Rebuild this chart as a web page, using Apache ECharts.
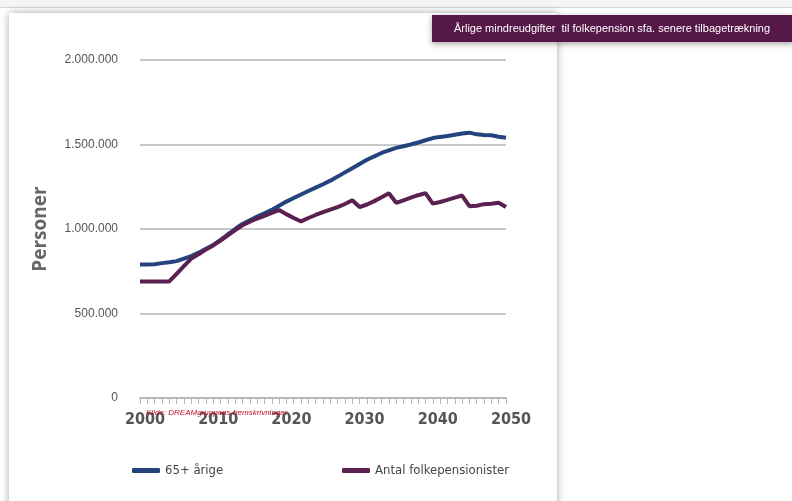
<!DOCTYPE html>
<html>
<head>
<meta charset="utf-8">
<script src="https://cdn.jsdelivr.net/npm/echarts@6/dist/echarts.min.js"></script>
<style>
html,body{margin:0;padding:0;background:#fff;}
#chart{width:792px;height:501px;}
</style>
</head>
<body>
<div id="chart"></div>
<script>
var years = [];
for (var y = 2000; y <= 2050; y++) years.push(String(y));

var seriesNames = ['65+ årige', 'Antal folkepensionister'];

var aged65 = [790000,790000,792000,798000,803000,810000,825000,840000,860000,883000,
  905000,935000,968000,1000000,1030000,1052000,1073000,1093000,1113000,1138000,
  1162000,1183000,1204000,1225000,1245000,1265000,1286000,1310000,1335000,1360000,
  1385000,1410000,1430000,1450000,1465000,1480000,1490000,1500000,1512000,1525000,
  1538000,1545000,1550000,1558000,1565000,1570000,1560000,1556000,1555000,1546000,1540000];

var pensioners = [690000,690000,690000,690000,690000,735000,780000,825000,850000,878000,
  903000,932000,962000,993000,1022000,1043000,1062000,1078000,1095000,1112000,
  1088000,1065000,1045000,1065000,1083000,1100000,1115000,1130000,1148000,1170000,
  1130000,1145000,1165000,1188000,1212000,1155000,1170000,1185000,1200000,1212000,
  1150000,1160000,1172000,1186000,1198000,1135000,1138000,1147000,1150000,1155000,1130000];

var yTicks = [0, 500000, 1000000, 1500000, 2000000];
var yAxisTitle = 'Personer';
var bannerText = 'Årlige mindreudgifter  til folkepension sfa. senere tilbagetrækning';
var sourceText = 'Kilde: DREAMgruppens fremskrivninger';

function fmt(v) {
  return String(v).replace(/\B(?=(\d{3})+(?!\d))/g, '.');
}

var condensed = '"DejaVu Sans Condensed", "Liberation Sans Narrow", sans-serif';

var chart = echarts.init(document.getElementById('chart'), null, {renderer: 'canvas'});
chart.setOption({
  backgroundColor: '#ffffff',
  animation: false,
  graphic: [
    {type: 'rect', z: -20, shape: {x: 0, y: 0, width: 792, height: 7}, style: {fill: '#f5f5f5'}},
    {type: 'line', z: -19, shape: {x1: 0, y1: 7.5, x2: 792, y2: 7.5}, style: {stroke: '#d6d6d6', lineWidth: 1}},
    {type: 'rect', z: -18, shape: {x: 9, y: 13, width: 548, height: 500},
      style: {fill: '#ffffff', shadowBlur: 8, shadowColor: 'rgba(0,0,0,0.35)', shadowOffsetX: 0, shadowOffsetY: 0}},
    {type: 'rect', z: 50, shape: {x: 432, y: 15, width: 362, height: 27},
      style: {fill: '#561848', shadowBlur: 6, shadowColor: 'rgba(0,0,0,0.35)', shadowOffsetY: 2}},
    {type: 'text', z: 51, x: 612, y: 29,
      style: {text: bannerText, fill: '#ffffff', font: '11px "Liberation Sans", Arial, sans-serif',
        textAlign: 'center', textVerticalAlign: 'middle'}},
    {type: 'text', z: 60, x: 146, y: 413,
      style: {text: sourceText, fill: '#c0102a', font: 'italic 8px "Liberation Sans", Arial, sans-serif',
        textAlign: 'left', textVerticalAlign: 'middle'}}
  ],
  grid: {left: 140, right: 286, top: 60, bottom: 103, containLabel: false},
  legend: [
    {data: [seriesNames[0]], left: 127, top: 459, icon: 'roundRect', itemWidth: 28, itemHeight: 5, itemGap: 5,
      textStyle: {fontFamily: condensed, fontSize: 13, color: '#444'}},
    {data: [seriesNames[1]], left: 337, top: 459, icon: 'roundRect', itemWidth: 28, itemHeight: 5, itemGap: 5,
      textStyle: {fontFamily: condensed, fontSize: 13, color: '#444'}}
  ],
  xAxis: {
    type: 'category',
    data: years,
    boundaryGap: false,
    axisLine: {show: true, lineStyle: {color: '#b8b8b8', width: 2}},
    axisTick: {show: true, interval: 0, length: 6, lineStyle: {color: '#b8b8b8', width: 1}},
    axisLabel: {interval: 9, margin: 14, padding: [0, 0, 0, 10],
      fontFamily: condensed, fontWeight: 'bold', fontSize: 16, color: '#555'},
    splitLine: {show: false}
  },
  yAxis: {
    type: 'value',
    min: yTicks[0],
    max: yTicks[yTicks.length - 1],
    interval: yTicks[1] - yTicks[0],
    name: yAxisTitle,
    nameLocation: 'middle',
    nameGap: 90,
    nameRotate: 90,
    nameTextStyle: {fontFamily: '"Open Sans", sans-serif', fontWeight: 'bold', fontSize: 19, color: '#666'},
    axisLine: {show: false},
    axisTick: {show: false},
    axisLabel: {margin: 22, formatter: fmt,
      fontFamily: '"Liberation Sans", Arial, sans-serif', fontSize: 12, color: '#555'},
    splitLine: {show: true, lineStyle: {color: '#c9c9c9', width: 2}}
  },
  series: [
    {name: seriesNames[0], type: 'line', data: aged65, showSymbol: false, symbol: 'none',
      lineStyle: {width: 4, color: '#24427c'}, itemStyle: {color: '#24427c'}, z: 3},
    {name: seriesNames[1], type: 'line', data: pensioners, showSymbol: false, symbol: 'none',
      lineStyle: {width: 4, color: '#5a2150'}, itemStyle: {color: '#5a2150'}, z: 4}
  ]
});
</script>
</body>
</html>
